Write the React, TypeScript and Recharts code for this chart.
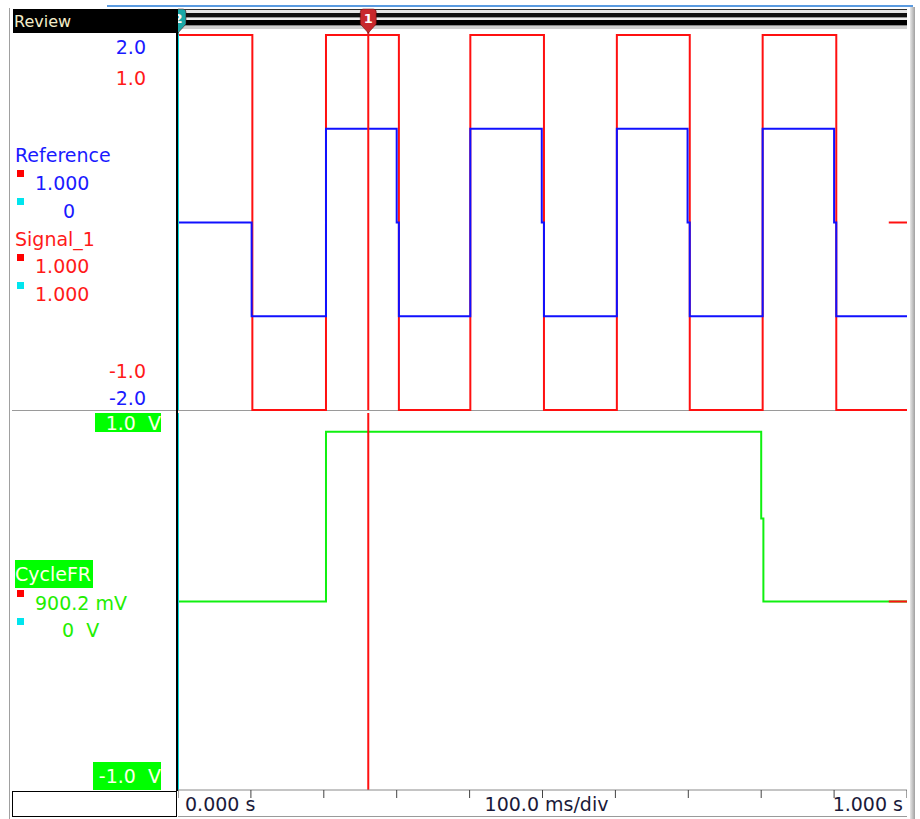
import React from 'react';
import { ComposedChart, Line, XAxis, YAxis, ReferenceLine } from 'recharts';

document.body.style.margin = '0';

// time in ms, values per channel
const refTimes = [0, 101, 203, 300, 303, 401, 499, 502, 602, 699, 702, 802, 900, 903, 1000];
const refValues = [0, -1, 1, 0, -1, 1, 0, -1, 1, 0, -1, 1, 0, -1, -1];

const sigTimes = [0, 102, 203, 303, 401, 502, 602, 702, 802, 903, 1000];
const sigValues = [1, -1, 1, -1, 1, -1, 1, -1, 1, -1, -1];

const cycleTimes = [0, 203, 800, 803, 1000];
const cycleValues = [0, 0.9002, 0.44, 0, 0];

const timeTicks = [0, 100, 200, 300, 400, 500, 600, 700, 800, 900, 1000];
const cursor1 = 261;
const cursor2 = 0;

const reference = refTimes.map((t, i) => ({ t, v: refValues[i] }));
const signal1 = sigTimes.map((t, i) => ({ t, v: sigValues[i] }));
const cycleFR = cycleTimes.map((t, i) => ({ t, v: cycleValues[i] }));

const FONT = '"DejaVu Sans", Verdana, sans-serif';
const BLUE = '#1a1aff';
const RED = '#ff1a1a';
const GREEN = '#22ee00';

const Badge = ({ x, top, fill, label }: { x: number; top: number; fill: string; label: string }) => {
  const y0 = 1;
  return (
    <g>
      <line x1={x} x2={x} y1={y0 + 22} y2={top} stroke={fill} strokeWidth={2} />
      <path
        d={`M ${x - 8} ${y0 + 3} Q ${x - 8} ${y0} ${x - 5} ${y0} L ${x + 5} ${y0} Q ${x + 8} ${y0} ${x + 8} ${y0 + 3} L ${x + 8} ${y0 + 15} L ${x} ${y0 + 24} L ${x - 8} ${y0 + 15} Z`}
        fill={fill}
        stroke="#5a0000"
        strokeOpacity={0.5}
      />
      <text x={x} y={y0 + 14} textAnchor="middle" fontSize={13} fontWeight="bold" fill="#fff" fontFamily={FONT}>
        {label}
      </text>
    </g>
  );
};

const TimeTick = (props: any) => {
  const { x, y, payload } = props;
  const base = y + 11;
  const style = { fontFamily: FONT, fontSize: 19, fill: '#1a1a3a' };
  if (payload.value === 0)
    return <text x={x + 7} y={base} textAnchor="start" style={style}>0.000 s</text>;
  if (payload.value === 500)
    return <text x={x + 4} y={base} textAnchor="middle" style={style}>100.0 ms/div</text>;
  if (payload.value === 1000)
    return <text x={x - 4} y={base} textAnchor="end" style={style}>1.000 s</text>;
  return null;
};

const Txt = ({ left, top, color, children, right }: any) => (
  <div
    style={{
      position: 'absolute',
      left: right === undefined ? left : undefined,
      right: right !== undefined ? 920 - right : undefined,
      top,
      color,
      fontSize: 19,
      lineHeight: '22px',
      whiteSpace: 'pre',
    }}
  >
    {children}
  </div>
);

const Sq = ({ top, color }: { top: number; color: string }) => (
  <div style={{ position: 'absolute', left: 17, top, width: 7, height: 7, background: color }} />
);

const GreenBox = ({ left, top, width, height, children, align }: any) => (
  <div
    style={{
      position: 'absolute',
      left,
      top,
      width,
      height,
      background: '#00ff00',
      color: '#ffffe8',
      fontSize: 19,
      lineHeight: `${Math.max(height, 22)}px`,
      whiteSpace: 'pre',
      textAlign: align || 'right',
      display: 'flex',
      alignItems: 'center',
      justifyContent: align === 'left' ? 'flex-start' : 'flex-end',
    }}
  >
    {children}
  </div>
);

export default function App() {
  return (
    <div style={{ position: 'relative', width: 920, height: 819, background: '#fff', fontFamily: FONT, overflow: 'hidden' }}>
      {/* window frame */}
      <div style={{ position: 'absolute', left: 107, top: 5, width: 806, height: 2, background: '#5b9be0' }} />
      <div style={{ position: 'absolute', left: 910, top: 7, width: 5, height: 812, background: 'linear-gradient(to right, #e8e8e8, #a0a0a0)' }} />
      <div style={{ position: 'absolute', left: 9, top: 8, width: 1, height: 811, background: '#a0a0a0' }} />

      {/* header */}
      <div style={{ position: 'absolute', left: 13, top: 9, width: 164, height: 24, background: '#000', color: '#f3ecc8', fontSize: 16, lineHeight: '25px', paddingLeft: 1 }}>
        Review
      </div>
      <div
        style={{
          position: 'absolute',
          left: 178,
          top: 9,
          width: 729,
          height: 20,
          background:
            'linear-gradient(to bottom, #333 0px, #333 1px, #e6e6e6 1px, #e6e6e6 4px, #111 4px, #111 8px, #9a9a9a 8px, #9a9a9a 9px, #f0f0f0 9px, #f0f0f0 11px, #000 11px, #000 16px, #8a8a8a 16px, #8a8a8a 17px, #cfcfcf 17px, #cfcfcf 20px)',
        }}
      />

      {/* panel separators and borders */}
      <div style={{ position: 'absolute', left: 12, top: 410, width: 895, height: 1, background: '#9a9a9a' }} />
      <div style={{ position: 'absolute', left: 176, top: 9, width: 2, height: 782, background: '#000' }} />
      <div style={{ position: 'absolute', left: 12, top: 791, width: 165, height: 26, border: '1px solid #000', boxSizing: 'border-box', background: '#fff' }} />
      <div style={{ position: 'absolute', left: 178, top: 816, width: 729, height: 1, background: '#9a9a9a' }} />

      {/* top panel labels */}
      <Txt right={146} top={36} color={BLUE}>2.0</Txt>
      <Txt right={146} top={67} color={RED}>1.0</Txt>
      <Txt left={15} top={144} color={BLUE}>Reference</Txt>
      <Sq top={170} color="#ff0000" />
      <Txt left={35} top={172} color={BLUE}>1.000</Txt>
      <Sq top={198} color="#00e5ee" />
      <Txt left={63} top={200} color={BLUE}>0</Txt>
      <Txt left={15} top={228} color={RED}>Signal_1</Txt>
      <Sq top={254} color="#ff0000" />
      <Txt left={35} top={255} color={RED}>1.000</Txt>
      <Sq top={282} color="#00e5ee" />
      <Txt left={35} top={283} color={RED}>1.000</Txt>
      <Txt right={146} top={360} color={RED}>-1.0</Txt>
      <Txt right={146} top={387} color={BLUE}>-2.0</Txt>

      {/* bottom panel labels */}
      <GreenBox left={95} top={413} width={66} height={19}>{'1.0  V'}</GreenBox>
      <GreenBox left={15} top={560} width={78} height={28} align="left">CycleFR</GreenBox>
      <Sq top={590} color="#ff0000" />
      <Txt left={35} top={592} color={GREEN}>900.2 mV</Txt>
      <Sq top={618} color="#00e5ee" />
      <Txt left={62} top={619} color={GREEN}>{'0  V'}</Txt>
      <GreenBox left={93} top={762} width={68} height={28}>{'-1.0  V'}</GreenBox>

      {/* top panel chart */}
      <div style={{ position: 'absolute', left: 178, top: 8 }}>
        <ComposedChart width={729} height={404} margin={{ top: 27, right: 0, bottom: 2, left: 0 }}>
          <XAxis type="number" dataKey="t" domain={[0, 1000]} hide allowDataOverflow />
          <YAxis yAxisId="ref" type="number" domain={[-2, 2]} hide />
          <YAxis yAxisId="sig" type="number" domain={[-1, 1]} hide />
          <Line data={signal1} dataKey="v" yAxisId="sig" type="stepAfter" stroke="#ff1010" strokeWidth={2} dot={false} isAnimationActive={false} />
          <Line data={reference} dataKey="v" yAxisId="ref" type="stepAfter" stroke="#1010ff" strokeWidth={2} dot={false} isAnimationActive={false} />
          <ReferenceLine yAxisId="sig" segment={[{ x: 975, y: 0 }, { x: 1000, y: 0 }]} stroke="#ff1010" strokeWidth={2} />
          <ReferenceLine
            yAxisId="sig"
            x={cursor2}
            stroke="#00dde0"
            strokeWidth={2}
            label={(p: any) => <Badge x={p.viewBox.x} top={p.viewBox.y} fill="#1aa8a8" label="2" />}
          />
          <ReferenceLine
            yAxisId="sig"
            x={cursor1}
            stroke="#ff1010"
            strokeWidth={2}
            label={(p: any) => <Badge x={p.viewBox.x} top={p.viewBox.y} fill="#c8282c" label="1" />}
          />
        </ComposedChart>
      </div>

      {/* bottom panel chart */}
      <div style={{ position: 'absolute', left: 178, top: 411 }}>
        <ComposedChart width={729} height={406} margin={{ top: 2, right: 0, bottom: 0, left: 0 }}>
          <XAxis
            type="number"
            dataKey="t"
            domain={[0, 1000]}
            ticks={timeTicks}
            height={27}
            axisLine={{ stroke: '#8a8a8a' }}
            tickLine={{ stroke: '#444' }}
            tickSize={8}
            tick={<TimeTick />}
            interval={0}
          />
          <YAxis type="number" domain={[-1, 1]} hide />
          <Line data={cycleFR} dataKey="v" type="stepAfter" stroke="#10f010" strokeWidth={2} dot={false} isAnimationActive={false} />
          <ReferenceLine segment={[{ x: 975, y: 0 }, { x: 1000, y: 0 }]} stroke="#ff1010" strokeWidth={2} />
          <ReferenceLine x={cursor2} stroke="#00dde0" strokeWidth={2} />
          <ReferenceLine x={cursor1} stroke="#ff1010" strokeWidth={2} />
        </ComposedChart>
      </div>
    </div>
  );
}
